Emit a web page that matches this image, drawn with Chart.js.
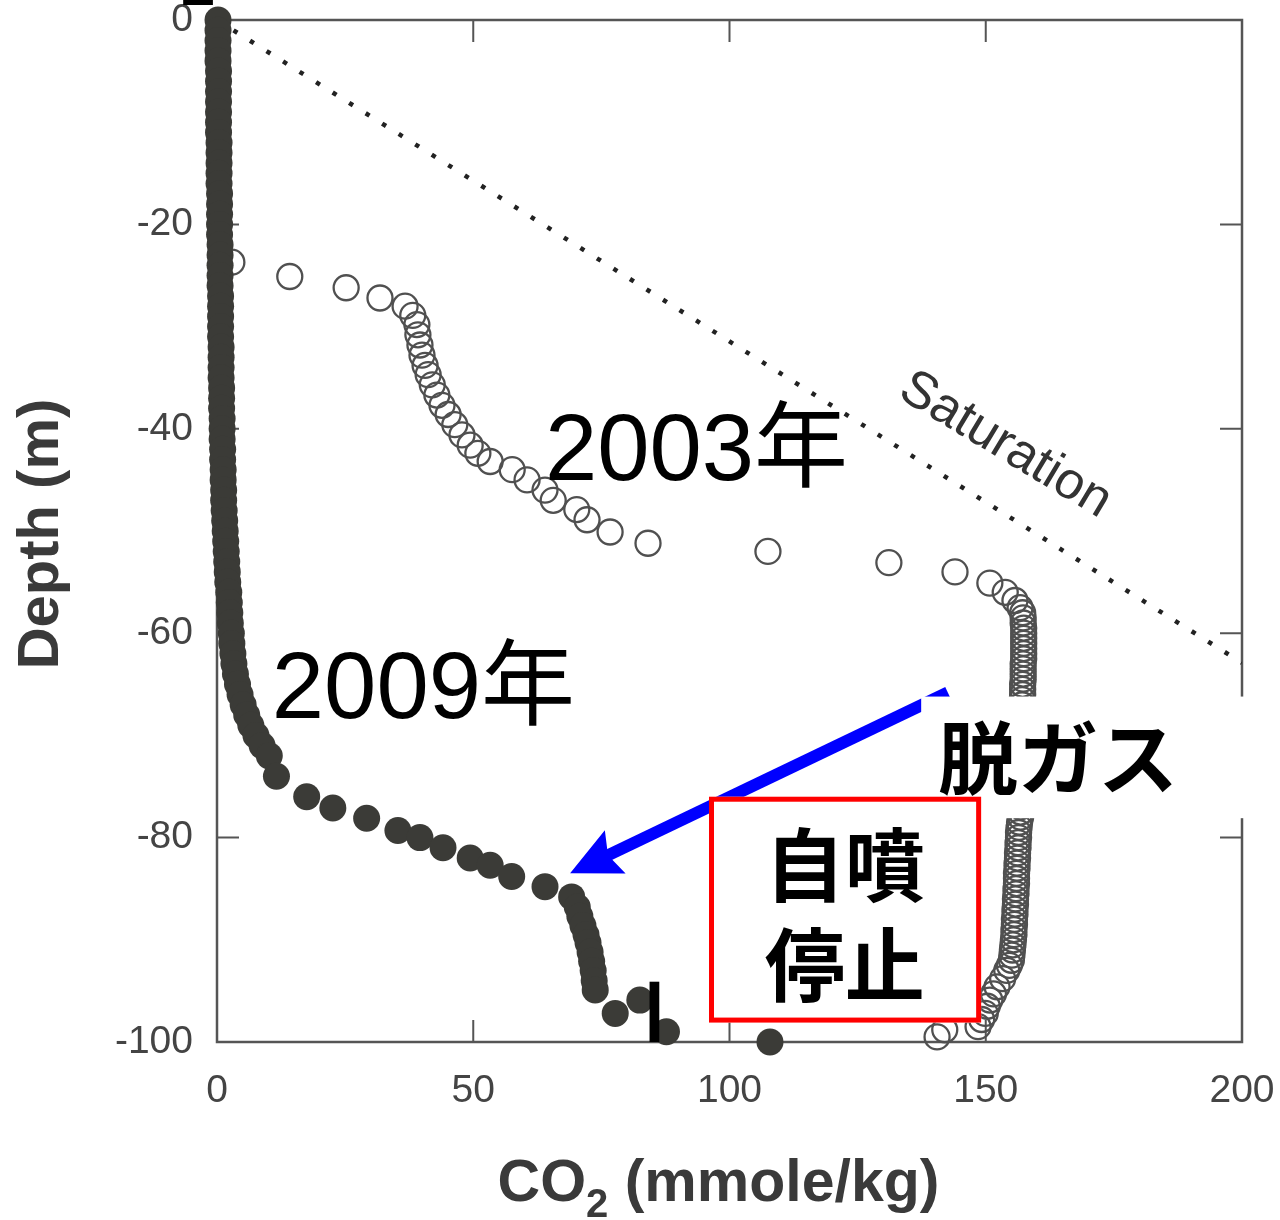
<!DOCTYPE html>
<html>
<head>
<meta charset="utf-8">
<title>CO2 depth profile</title>
<script src="https://cdn.jsdelivr.net/npm/chart.js@4.4.1/dist/chart.umd.min.js"></script>
<style>
  html, body { margin: 0; padding: 0; background: #fff; }
  #wrap { width: 1280px; height: 1220px; }
</style>
</head>
<body>
<div id="wrap"><canvas id="c" width="1280" height="1220"></canvas></div>
<script>
// Axis ticks
const xTicks = [0, 50, 100, 150, 200];
const yTicks = [0, -20, -40, -60, -80, -100];

// 2009 profile (filled dots): CO2 in mmole/kg, depth in m
const co2_2009 = [
  0.2, 0.2, 0.2, 0.2, 0.2, 0.3, 0.3, 0.3, 0.3, 0.3,
  0.3, 0.3, 0.4, 0.4, 0.4, 0.4, 0.4, 0.5, 0.5, 0.5,
  0.5, 0.5, 0.6, 0.6, 0.6, 0.6, 0.6, 0.7, 0.7, 0.7,
  0.7, 0.7, 0.8, 0.8, 0.8, 0.8, 0.9, 0.9, 0.9, 1.0,
  1.0, 1.0, 1.1, 1.1, 1.2, 1.2, 1.3, 1.3, 1.4, 1.5,
  1.6, 1.7, 1.8, 1.9, 2.0, 2.1, 2.3, 2.4, 2.5, 2.6,
  2.8, 2.9, 3.1, 3.3, 3.6, 4.0, 4.5, 5.1, 5.8, 6.6,
  7.6, 8.8, 10.2,
  11.6, 17.5, 22.6, 29.2, 35.3, 39.6, 44.1, 49.4, 53.3, 57.5,
  64.0, 69.2, 70.3, 70.8, 71.4, 72.0, 72.4, 72.8, 73.1, 73.4,
  73.6, 73.8, 77.7, 82.5, 87.7, 107.9
];
const depth_2009 = [
  0, -1, -2, -3, -4, -5, -6, -7, -8, -9,
  -10, -11, -12, -13, -14, -15, -16, -17, -18, -19,
  -20, -21, -22, -23, -24, -25, -26, -27, -28, -29,
  -30, -31, -32, -33, -34, -35, -36, -37, -38, -39,
  -40, -41, -42, -43, -44, -45, -46, -47, -48, -49,
  -50, -51, -52, -53, -54, -55, -56, -57, -58, -59,
  -60, -61, -62, -63, -64, -65, -66, -67, -68, -69,
  -70, -71, -72,
  -74.0, -76.0, -77.1, -78.1, -79.3, -80.0, -81.0, -82.0, -82.7, -83.8,
  -84.8, -85.8, -86.8, -87.7, -88.6, -89.5, -90.3, -91.2, -92.1, -93.0,
  -94.0, -94.9, -97.2, -95.9, -99.0, -100.0
];

// 2003 profile (open circles)
const co2_2003 = [
  2.9, 14.2, 25.2, 31.8, 36.7, 38.2, 39.0, 39.2, 39.6, 40.0,
  40.6, 41.2, 42.0, 42.9, 43.9, 45.1, 46.4, 47.8, 49.4, 50.9,
  53.3, 57.6, 60.5, 64.0, 65.6, 70.2, 72.2, 76.7, 84.1, 107.5,
  131.1, 144.0, 150.8, 153.8, 155.7, 156.7,
  157.2, 157.3, 157.3, 157.4, 157.4, 157.4, 157.4, 157.4, 157.4, 157.4,
  157.3, 157.3, 157.3, 157.3, 157.2, 157.2, 157.2,
  157.1, 157.1, 157.1, 157.1, 157.1, 157.1, 157.0, 157.0, 157.0, 157.0,
  157.0, 157.0, 156.9, 156.9, 156.9, 156.9, 156.9, 156.9, 156.8, 156.8,
  156.8, 156.8, 156.8, 156.8,
  156.6, 156.5, 156.4, 156.4, 156.3, 156.3, 156.2, 156.2, 156.1, 156.1,
  156.0, 156.0, 156.0, 155.9, 155.9, 155.8,
  155.8, 155.7, 155.7, 155.6, 155.6, 155.5, 155.5, 155.4, 155.3, 155.2,
  155.1, 155.0,
  154.6, 154.1, 153.3, 152.2, 151.5, 150.8, 150.3, 149.9, 149.2, 148.5,
  142.0, 140.5
];
const depth_2003 = [
  -23.7, -25.1, -26.2, -27.2, -28.0, -28.9, -29.8, -30.8, -31.8, -32.8,
  -33.8, -34.7, -35.7, -36.7, -37.7, -38.6, -39.6, -40.6, -41.6, -42.4,
  -43.2, -44.0, -45.0, -46.0, -47.0, -47.9, -48.9, -50.1, -51.2, -52.0,
  -53.1, -54.0, -55.1, -56.0, -56.8, -57.5,
  -58.0, -58.5, -59.0, -59.5, -60.0, -60.5, -61.0, -61.5, -62.0, -62.5,
  -63.0, -63.5, -64.0, -64.5, -65.0, -65.5, -66.0,
  -66.5, -67.0, -67.5, -68.0, -68.5, -69.0, -69.5, -70.0, -70.5, -71.0,
  -71.5, -72.0, -72.5, -73.0, -73.5, -74.0, -74.5, -75.0, -75.5, -76.0,
  -76.5, -77.0, -77.5, -78.0,
  -78.5, -79.0, -79.5, -80.0, -80.5, -81.0, -81.5, -82.0, -82.5, -83.0,
  -83.5, -84.0, -84.5, -85.0, -85.5, -86.0,
  -86.5, -87.0, -87.5, -88.0, -88.5, -89.0, -89.5, -90.0, -90.5, -91.0,
  -91.5, -92.0,
  -92.5, -93.0, -93.8, -94.6, -95.3, -95.9, -96.5, -97.2, -97.8, -98.5,
  -98.8, -99.5
];

// Saturation line end points
const saturationCO2 = [0, 200];
const saturationDepth = [0, -62.9];

const toPoints = (xs, ys) => xs.map((x, i) => ({ x: x, y: ys[i] }));

const FONT = "'Liberation Sans', Arial, Helvetica, sans-serif";
const CJK = "'Noto Sans CJK JP', 'Noto Sans CJK SC', sans-serif";

// Frame with inward ticks, drawn under the data
function drawFrame(chart) {
  const { ctx, chartArea: a, scales: { x, y } } = chart;
  ctx.save();
  ctx.strokeStyle = '#555';
  ctx.lineWidth = 2.5;
  ctx.strokeRect(a.left, a.top, a.right - a.left, a.bottom - a.top);
  const len = 22;
  ctx.lineWidth = 2;
  ctx.beginPath();
  xTicks.slice(1, -1).forEach(v => {
    const px = x.getPixelForValue(v);
    ctx.moveTo(px, a.top); ctx.lineTo(px, a.top + len);
    ctx.moveTo(px, a.bottom); ctx.lineTo(px, a.bottom - len);
  });
  yTicks.slice(1, -1).forEach(v => {
    const py = y.getPixelForValue(v);
    ctx.moveTo(a.left, py); ctx.lineTo(a.left + len, py);
    ctx.moveTo(a.right, py); ctx.lineTo(a.right - len, py);
  });
  ctx.stroke();
  ctx.restore();
}

function drawArrow(ctx, x0, y0, x1, y1) {
  const dx = x1 - x0, dy = y1 - y0, L = Math.hypot(dx, dy);
  const ux = dx / L, uy = dy / L, nx = -uy, ny = ux;
  const headLen = 50, headW = 24, notch = 8;
  ctx.save();
  ctx.strokeStyle = '#0000ff';
  ctx.fillStyle = '#0000ff';
  ctx.lineWidth = 12;
  ctx.lineCap = 'butt';
  ctx.beginPath();
  ctx.moveTo(x0, y0);
  ctx.lineTo(x1 - ux * (headLen - notch - 2), y1 - uy * (headLen - notch - 2));
  ctx.stroke();
  const bx = x1 - ux * headLen, by = y1 - uy * headLen;
  ctx.beginPath();
  ctx.moveTo(x1, y1);
  ctx.lineTo(bx + nx * headW, by + ny * headW);
  ctx.lineTo(x1 - ux * (headLen - notch), y1 - uy * (headLen - notch));
  ctx.lineTo(bx - nx * headW, by - ny * headW);
  ctx.closePath();
  ctx.fill();
  ctx.restore();
}

// Labels, arrow and boxes placed in data coordinates
const notes = {
  label2003: { x: 64.0, y: -45.0 },
  label2009: { x: 10.7, y: -68.3 },
  saturation: { x: 153.8, y: -41.6, angle: 31 },
  arrow: { x0: 142.6, y0: -65.8, x1: 68.9, y1: -83.5 },
  degasBox: { x: 137.4, yTop: -66.2, yBottom: -78.1 },
  degas: { x: 140.7, y: -72.2 },
  stopBox: { x1: 96.0, x2: 149.1, y1: -76.0, y2: -98.1 },
  stopLine1: { x: 122.5, y: -82.6 },
  stopLine2: { x: 122.5, y: -92.4 },
  tabTop: { x1: -6.6, x2: -0.8 },
  tabBottom: { x1: 84.4, x2: 86.3, y1: -94.1, y2: -100.0 }
};

function drawNotes(chart) {
  const { ctx, scales: { x, y } } = chart;
  const X = v => x.getPixelForValue(v);
  const Y = v => y.getPixelForValue(v);
  ctx.save();

  // year labels
  ctx.fillStyle = '#000';
  ctx.textBaseline = 'alphabetic';
  ctx.textAlign = 'left';
  ctx.font = `94px ${FONT}, ${CJK}`;
  ctx.fillText('2003年', X(notes.label2003.x), Y(notes.label2003.y));
  ctx.fillText('2009年', X(notes.label2009.x), Y(notes.label2009.y));

  // saturation caption along the line
  ctx.save();
  ctx.translate(X(notes.saturation.x), Y(notes.saturation.y));
  ctx.rotate(notes.saturation.angle * Math.PI / 180);
  ctx.fillStyle = '#333';
  ctx.font = `52px ${FONT}`;
  ctx.textAlign = 'center';
  ctx.textBaseline = 'middle';
  ctx.fillText('Saturation', 0, 0);
  ctx.restore();

  // arrow
  drawArrow(ctx, X(notes.arrow.x0), Y(notes.arrow.y0), X(notes.arrow.x1), Y(notes.arrow.y1));

  // white label panel
  const db = notes.degasBox;
  ctx.fillStyle = '#fff';
  ctx.fillRect(X(db.x), Y(db.yTop), chart.width - X(db.x), Y(db.yBottom) - Y(db.yTop));
  ctx.fillStyle = '#000';
  ctx.font = `bold 80px ${CJK}`;
  ctx.textAlign = 'left';
  ctx.textBaseline = 'middle';
  ctx.fillText('脱ガス', X(notes.degas.x), Y(notes.degas.y));

  // red framed box
  const sb = notes.stopBox;
  const bx = X(sb.x1), by = Y(sb.y1), bw = X(sb.x2) - bx, bh = Y(sb.y2) - by;
  ctx.fillStyle = '#fff';
  ctx.fillRect(bx, by, bw, bh);
  ctx.strokeStyle = '#ff0000';
  ctx.lineWidth = 5;
  ctx.strokeRect(bx + 2.5, by + 2.5, bw - 5, bh - 5);
  ctx.fillStyle = '#000';
  ctx.font = `bold 80px ${CJK}`;
  ctx.textAlign = 'center';
  ctx.fillText('自噴', X(notes.stopLine1.x), Y(notes.stopLine1.y));
  ctx.fillText('停止', X(notes.stopLine2.x), Y(notes.stopLine2.y));

  // small black tabs
  ctx.fillStyle = '#000';
  const tb = notes.tabBottom;
  ctx.fillRect(X(tb.x1), Y(tb.y1), X(tb.x2) - X(tb.x1), Y(tb.y2) - Y(tb.y1));
  ctx.fillRect(X(notes.tabTop.x1), 0, X(notes.tabTop.x2) - X(notes.tabTop.x1), 5);

  // axis titles
  ctx.fillStyle = '#3a3a3a';
  ctx.save();
  ctx.translate(42, (chart.chartArea.top + chart.chartArea.bottom) / 2 + 3);
  ctx.rotate(-Math.PI / 2);
  ctx.font = `bold 58px ${FONT}`;
  ctx.textAlign = 'center';
  ctx.textBaseline = 'middle';
  ctx.fillText('Depth (m)', 0, 0);
  ctx.restore();

  const main = `bold 59px ${FONT}`, sub = `bold 40px ${FONT}`;
  ctx.textAlign = 'left';
  ctx.textBaseline = 'alphabetic';
  ctx.font = main;
  const wCO = ctx.measureText('CO').width;
  const wRest = ctx.measureText(' (mmole/kg)').width;
  ctx.font = sub;
  const wSub = ctx.measureText('2').width;
  const total = wCO + wSub + wRest;
  let tx = (chart.chartArea.left + chart.chartArea.right) / 2 - total / 2 - 11;
  const base = 1201;
  ctx.font = main;
  ctx.fillText('CO', tx, base);
  tx += wCO;
  ctx.font = sub;
  ctx.fillText('2', tx, base + 16);
  tx += wSub;
  ctx.font = main;
  ctx.fillText(' (mmole/kg)', tx, base);

  ctx.restore();
}

const overlay = {
  id: 'overlay',
  beforeDatasetsDraw: drawFrame,
  afterDatasetsDraw: drawNotes
};

new Chart(document.getElementById('c'), {
  type: 'scatter',
  data: {
    datasets: [
      {
        label: '2009',
        data: toPoints(co2_2009, depth_2009),
        backgroundColor: '#3b3b37',
        borderColor: '#3b3b37',
        borderWidth: 0,
        pointRadius: 13.5,
        pointHoverRadius: 13.5,
        clip: false
      },
      {
        label: '2003',
        data: toPoints(co2_2003, depth_2003),
        backgroundColor: 'rgba(0,0,0,0)',
        borderColor: '#505050',
        borderWidth: 2.3,
        pointRadius: 12.5,
        pointHoverRadius: 12.5,
        clip: false
      },
      {
        label: 'Saturation',
        data: toPoints(saturationCO2, saturationDepth),
        showLine: true,
        borderColor: '#222',
        borderWidth: 4.5,
        borderDash: [4.5, 15],
        pointRadius: 0,
        pointHoverRadius: 0,
        fill: false
      }
    ]
  },
  options: {
    responsive: false,
    animation: false,
    devicePixelRatio: 1,
    events: [],
    layout: { padding: { top: 20, right: 38, left: 0, bottom: 0 } },
    plugins: { legend: { display: false }, tooltip: { enabled: false } },
    scales: {
      x: {
        type: 'linear', min: 0, max: 200,
        afterFit(s) { s.height = 178; s.paddingLeft = 0; s.paddingRight = 0; },
        afterBuildTicks(s) { s.ticks = xTicks.map(v => ({ value: v })); },
        grid: { display: false, drawTicks: false },
        border: { display: false },
        ticks: { color: '#444', font: { family: FONT, size: 39 }, padding: 26, maxRotation: 0, autoSkip: false }
      },
      y: {
        type: 'linear', min: -100, max: 0,
        afterFit(s) { s.width = 217; s.paddingTop = 0; s.paddingBottom = 0; },
        afterBuildTicks(s) { s.ticks = yTicks.map(v => ({ value: v })); },
        grid: { display: false, drawTicks: false },
        border: { display: false },
        ticks: { color: '#444', font: { family: FONT, size: 39 }, padding: 24, autoSkip: false }
      }
    }
  },
  plugins: [overlay]
});
</script>
</body>
</html>
